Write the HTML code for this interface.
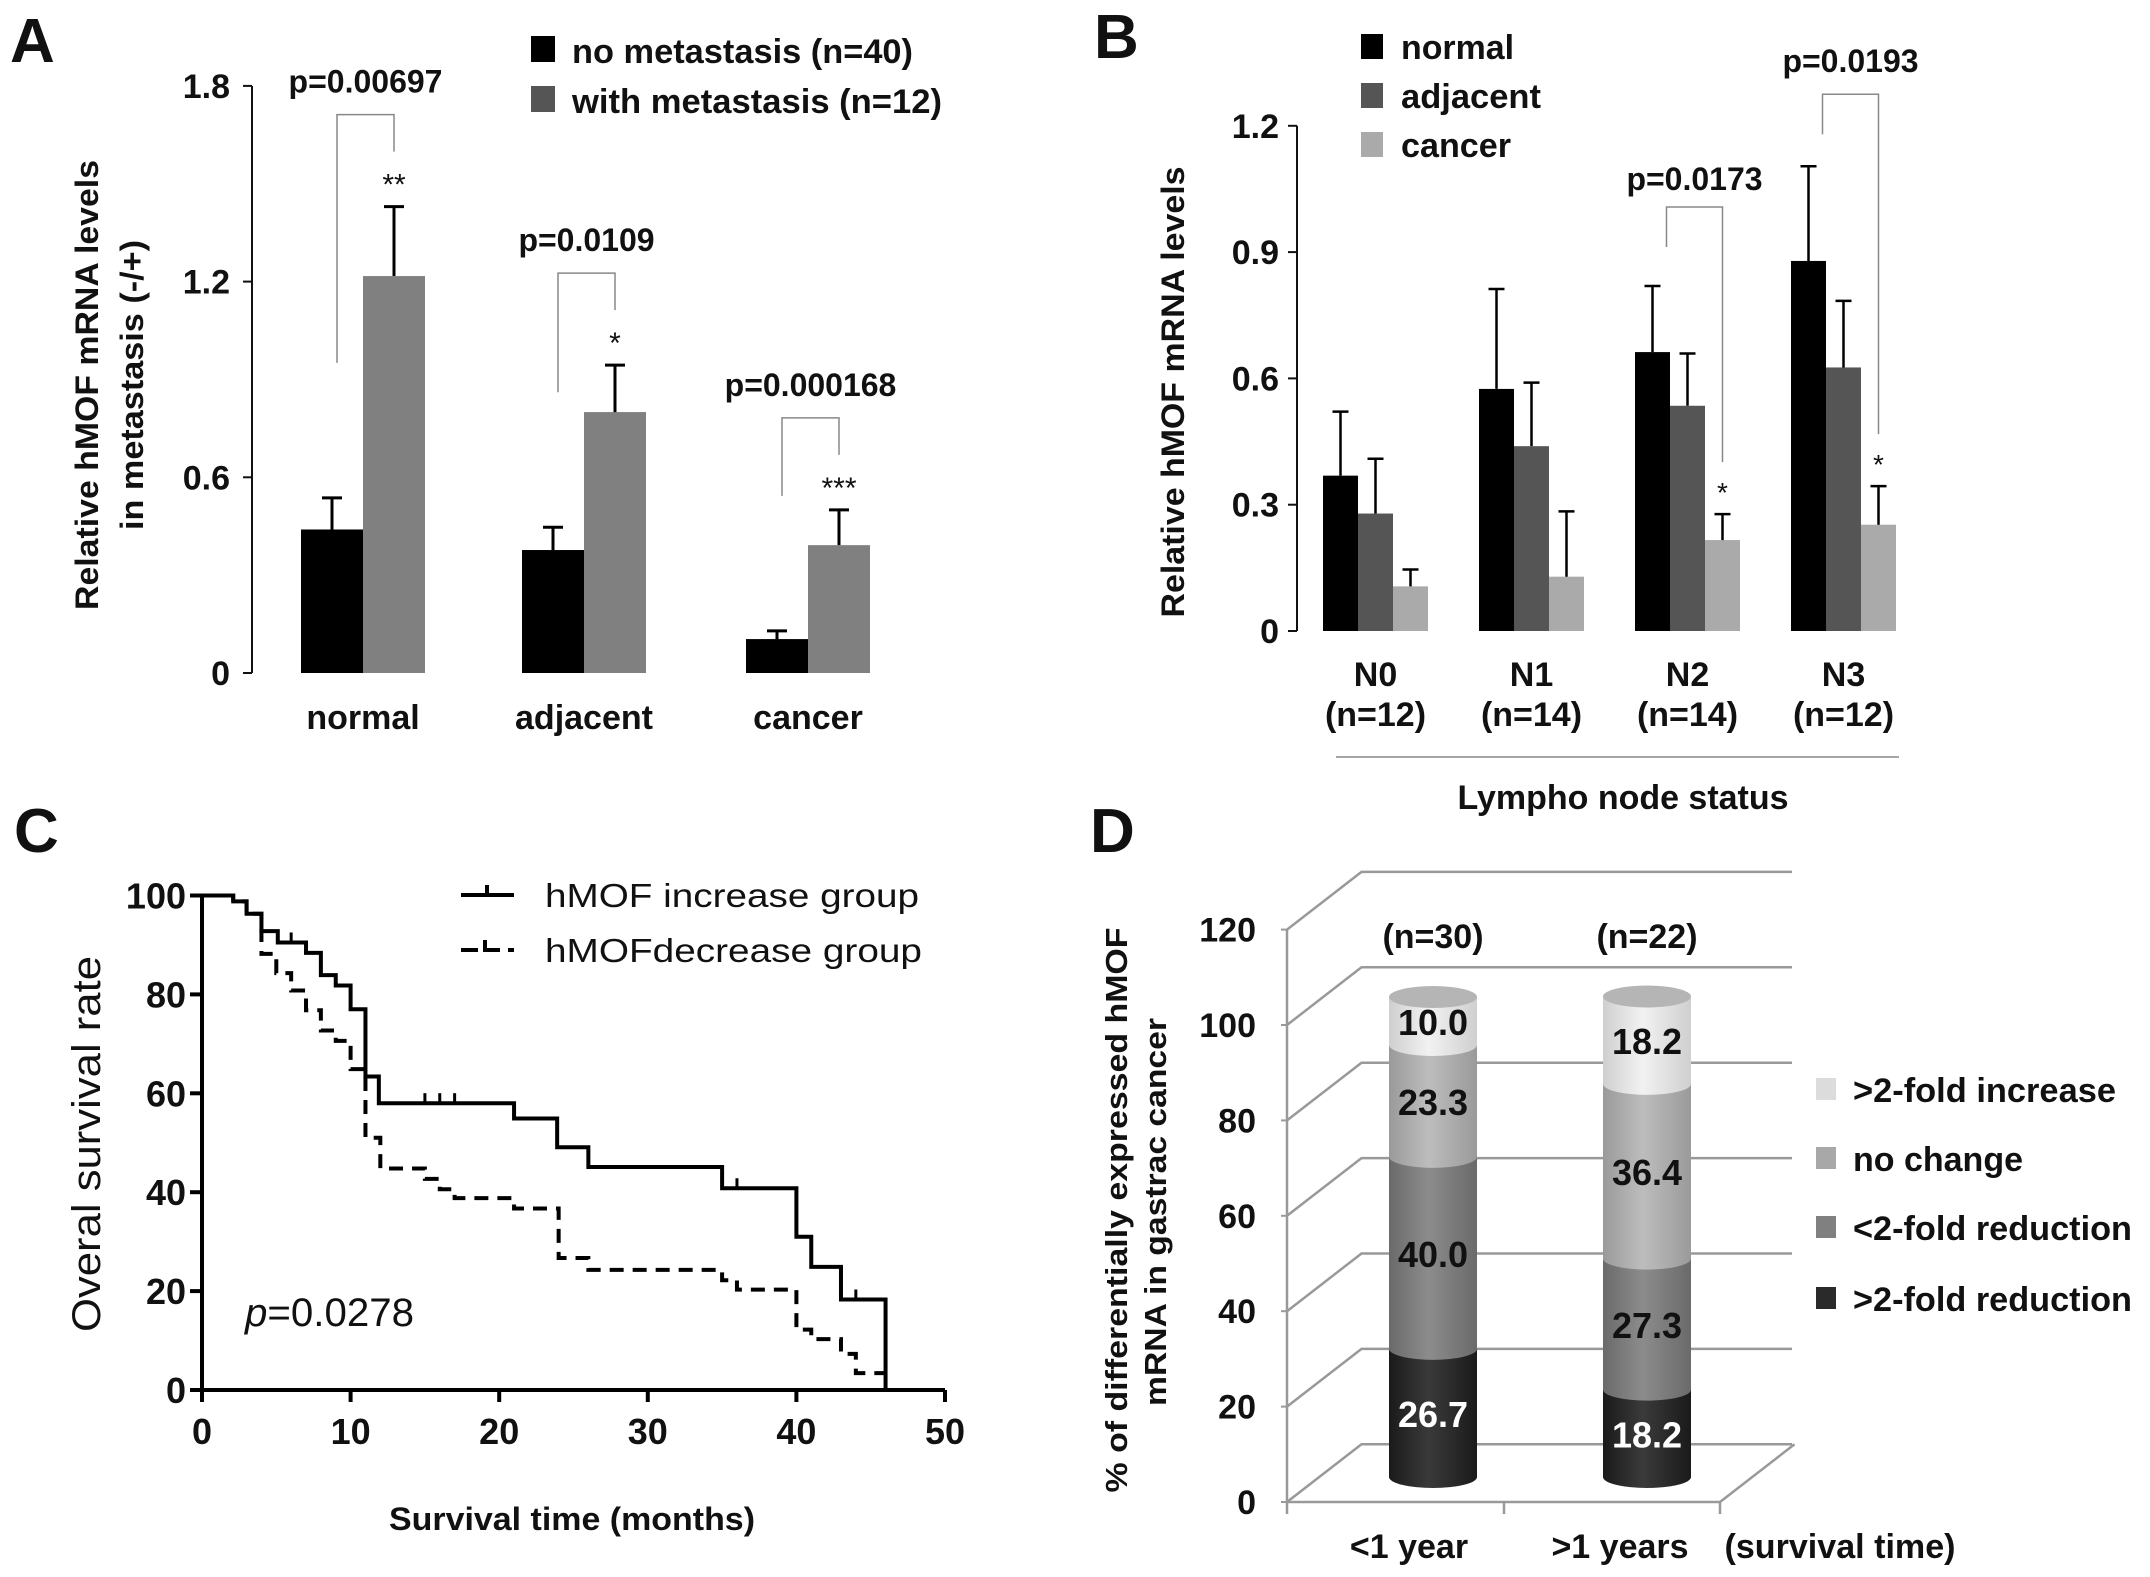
<!DOCTYPE html>
<html><head><meta charset="utf-8"><style>
html,body{margin:0;padding:0;background:#fff;}
svg{display:block;}
text{font-family:"Liberation Sans Narrow","Liberation Sans",sans-serif;font-weight:bold;fill:#111;}
.reg{font-family:"Liberation Sans",sans-serif;font-weight:normal;}
</style></head><body>
<svg id="fig" width="2150" height="1577" viewBox="0 0 2150 1577" xmlns="http://www.w3.org/2000/svg">
<g id="pA"></g>
<g id="pB"></g>
<g id="pC"></g>
<g id="pD"></g>
</svg>
<script>
// ---------- Panel A data ----------
const aCategories = ["normal","adjacent","cancer"];
const aNoMet = [0.44, 0.377, 0.104];
const aNoMetErr = [0.097, 0.07, 0.025];
const aWithMet = [1.217, 0.80, 0.392];
const aWithMetErr = [0.213, 0.144, 0.108];
const aTicks = [0, 0.6, 1.2, 1.8];
const aTickLabels = ["0","0.6","1.2","1.8"];
const aPvals = ["p=0.00697","p=0.0109","p=0.000168"];
const aStars = ["**","*","***"];
// ---------- Panel B data ----------
const bCategories = ["N0","N1","N2","N3"];
const bCounts = ["(n=12)","(n=14)","(n=14)","(n=12)"];
const bNormal = [0.369, 0.575, 0.6625, 0.879];
const bNormalErr = [0.152, 0.2375, 0.157, 0.225];
const bAdjacent = [0.279, 0.439, 0.535, 0.626];
const bAdjacentErr = [0.13, 0.151, 0.124, 0.158];
const bCancer = [0.106, 0.129, 0.216, 0.2525];
const bCancerErr = [0.04, 0.155, 0.0615, 0.0915];
const bTicks = [0, 0.3, 0.6, 0.9, 1.2];
const bTickLabels = ["0","0.3","0.6","0.9","1.2"];
// ---------- Panel C data ----------
const cIncTimes = [0, 2.1, 3, 4, 5.1, 7, 8, 9, 10, 11, 11.9, 21, 23.9, 26, 35, 40, 41, 43, 46];
const cIncSurv  = [100, 98.8, 96.3, 92.8, 90.5, 88.4, 83.9, 81.8, 77, 63.4, 58, 54.9, 49.1, 45.1, 40.8, 31, 24.9, 18.3, 0];
const cIncCensor = [6, 15, 16, 17, 36, 44];
const cIncCensorSurv = [90.5, 58, 58, 58, 40.8, 18.3];
const cDecTimes = [0, 2.1, 3, 4, 5, 6, 7, 8, 9, 10, 11, 12, 15, 16, 17, 21, 24, 26, 35, 36, 40, 41, 43, 44, 46];
const cDecSurv  = [100, 98.8, 96.3, 88.2, 84.3, 80.8, 76.8, 72.7, 70.6, 64.9, 51, 44.8, 42.7, 40.6, 38.8, 36.7, 26.7, 24.3, 22.2, 20.3, 12.2, 10.3, 7.3, 3.4, 3.4];
const cXTicks = [0,10,20,30,40,50];
const cYTicks = [0,20,40,60,80,100];
// ---------- Panel D data ----------
const dGroups = ["<1 year", ">1 years"];
const dGroupN = ["(n=30)", "(n=22)"];
const dReduce2 = [26.7, 18.2];
const dReduceLess = [40.0, 27.3];
const dNoChange = [23.3, 36.4];
const dIncrease = [10.0, 18.2];
const dSeriesNames = [">2-fold reduction","<2-fold reduction","no change",">2-fold increase"];
const dTicks = [0,20,40,60,80,100,120];

const NS = "http://www.w3.org/2000/svg";
function el(parent, tag, attrs, txt){
  const e = document.createElementNS(NS, tag);
  for (const k in attrs) e.setAttribute(k, attrs[k]);
  if (txt !== undefined) e.textContent = txt;
  parent.appendChild(e);
  return e;
}

// ================= Panel A =================
(function(){
  const g = document.getElementById('pA');
  const y0 = 673, pxPer = 195.7/0.6, axX = 252;
  const yA = v => y0 - v*pxPer;
  const blackX = [301, 522, 746], bw = 62;
  let t = el(g,'text',{x:10,y:62,'font-size':62,'font-family':'Liberation Sans'},'A');
   
  let ax = el(g,'line',{x1:axX,y1:yA(1.8),x2:axX,y2:y0,stroke:'#111','stroke-width':2});
   
  aTicks.forEach((v,i)=>{
    const tk = el(g,'line',{x1:axX-9,y1:yA(v),x2:axX,y2:yA(v),stroke:'#111','stroke-width':2});
     
    const lb = el(g,'text',{x:axX-22,y:yA(v)+12,'font-size':34,'text-anchor':'end'},aTickLabels[i]);
     
  });
  aCategories.forEach((c,i)=>{
    const x = blackX[i];
    const r1 = el(g,'rect',{x:x,y:yA(aNoMet[i]),width:bw,height:y0-yA(aNoMet[i]),fill:'#000'});
     
    const r2 = el(g,'rect',{x:x+bw,y:yA(aWithMet[i]),width:bw,height:y0-yA(aWithMet[i]),fill:'#808080'});
     
    [[x+bw/2,aNoMet[i],aNoMetErr[i]],[x+1.5*bw,aWithMet[i],aWithMetErr[i]]].forEach(a=>{
      const e1 = el(g,'path',{d:`M${a[0]},${yA(a[1])} V${yA(a[1]+a[2])} M${a[0]-10},${yA(a[1]+a[2])} H${a[0]+10}`,stroke:'#000','stroke-width':3,fill:'none'});
       
    });
    const lx = x+bw/2+5, rx = x+1.5*bw;
    const lTop = yA(aWithMet[i]+aWithMetErr[i]) - 92;
    const br = el(g,'path',{d:`M${lx},${yA(aNoMet[i]+aNoMetErr[i])-135} V${lTop} H${rx} V${yA(aWithMet[i]+aWithMetErr[i])-55}`,stroke:'#888','stroke-width':1.5,fill:'none'});
     
    const pt = el(g,'text',{x:(lx+rx)/2,y:lTop-22,'font-size':32,'text-anchor':'middle'},aPvals[i]);
     
    const st = el(g,'text',{x:rx,y:yA(aWithMet[i]+aWithMetErr[i])-12,'font-size':30,'text-anchor':'middle',class:'reg'},aStars[i]);
     
    const xl = el(g,'text',{x:x+bw,y:729,'font-size':34,'text-anchor':'middle'},c);
     
  });
  const yt = el(g,'text',{transform:'translate(98,385) rotate(-90)','font-size':32,'text-anchor':'middle','font-family':'Liberation Sans',textLength:450,lengthAdjust:'spacingAndGlyphs'},'Relative hMOF mRNA levels');
   
  const yt2 = el(g,'text',{transform:'translate(143,385) rotate(-90)','font-size':32,'text-anchor':'middle','font-family':'Liberation Sans',textLength:290,lengthAdjust:'spacingAndGlyphs'},'in metastasis (-/+)');
   
  const legNames = ["no metastasis (n=40)","with metastasis (n=12)"], legCol=['#000','#555'];
  legNames.forEach((n,i)=>{
    const sq = el(g,'rect',{x:531,y:36+i*50,width:24,height:26,fill:legCol[i]});
     
    const lt = el(g,'text',{x:572,y:63+i*50,'font-size':34,textLength:i?370:341,lengthAdjust:'spacingAndGlyphs'},n);
     
  });
})();

// ================= Panel B =================
(function(){
  const g = document.getElementById('pB');
  const y0 = 631, pxPer = 126.3/0.3, axX = 1297;
  const yB = v => y0 - v*pxPer;
  const gx0 = 1323, gStep = 156, bw = 35;
  let t = el(g,'text',{x:1094,y:58,'font-size':62,'font-family':'Liberation Sans'},'B');
   
  const ax = el(g,'line',{x1:axX,y1:yB(1.2),x2:axX,y2:y0,stroke:'#111','stroke-width':2});
   
  bTicks.forEach((v,i)=>{
    const tk = el(g,'line',{x1:axX-9,y1:yB(v),x2:axX,y2:yB(v),stroke:'#111','stroke-width':2});
     
    const lb = el(g,'text',{x:axX-18,y:yB(v)+12,'font-size':34,'text-anchor':'end'},bTickLabels[i]);
     
  });
  const series = [[bNormal,bNormalErr,'#000','normal'],[bAdjacent,bAdjacentErr,'#555','adjacent'],[bCancer,bCancerErr,'#aaa','cancer']];
  bCategories.forEach((c,i)=>{
    const gx = gx0 + i*gStep;
    series.forEach((s,j)=>{
      const x = gx + j*bw, v = s[0][i], e = s[1][i];
      const r = el(g,'rect',{x:x,y:yB(v),width:bw,height:y0-yB(v),fill:s[2]});
       
      const cx = x+bw/2;
      const eb = el(g,'path',{d:`M${cx},${yB(v)} V${yB(v+e)} M${cx-8},${yB(v+e)} H${cx+8}`,stroke:'#000','stroke-width':2.5,fill:'none'});
       
    });
    const xl = el(g,'text',{x:gx+1.5*bw,y:686,'font-size':34,'text-anchor':'middle'},c);
     
    const xn = el(g,'text',{x:gx+1.5*bw,y:726,'font-size':34,'text-anchor':'middle'},bCounts[i]);
     
  });
  // brackets N2, N3
  [[2,'p=0.0173',79,17],[3,'p=0.0193',72,22]].forEach(b=>{
    const i=b[0], gx = gx0+i*gStep;
    const lx = gx+bw/2+14, rx = gx+2.5*bw;
    const top = yB(bNormal[i]+bNormalErr[i]) - b[2];
    const br = el(g,'path',{d:`M${lx},${top+40} V${top} H${rx} V${yB(bCancer[i]+bCancerErr[i])-52}`,stroke:'#888','stroke-width':1.5,fill:'none'});
     
    const pt = el(g,'text',{x:(lx+rx)/2,y:top-b[3],'font-size':32,'text-anchor':'middle'},b[1]);
     
    const st = el(g,'text',{x:rx,y:yB(bCancer[i]+bCancerErr[i])-12,'font-size':28,'text-anchor':'middle',class:'reg'},'*');
     
  });
  const ln = el(g,'line',{x1:1336,y1:757,x2:1899,y2:757,stroke:'#888','stroke-width':1.5});
   
  const xt = el(g,'text',{x:1623,y:809,'font-size':34,'text-anchor':'middle',textLength:331,lengthAdjust:'spacingAndGlyphs'},'Lympho node status');
   
  const yt = el(g,'text',{transform:'translate(1184,392) rotate(-90)','font-size':32,'text-anchor':'middle','font-family':'Liberation Sans',textLength:451,lengthAdjust:'spacingAndGlyphs'},'Relative hMOF mRNA levels');
   
  const legN = ['normal','adjacent','cancer'], legC = ['#000','#555','#aaa'], legW=[113,140,110];
  legN.forEach((n,i)=>{
    const sq = el(g,'rect',{x:1361,y:34+i*49,width:22,height:25,fill:legC[i]});
     
    const lt = el(g,'text',{x:1401,y:59+i*49,'font-size':34,textLength:legW[i],lengthAdjust:'spacingAndGlyphs'},n);
     
  });
})();

// ================= Panel C =================
(function(){
  const g = document.getElementById('pC');
  const x0 = 202, xPer = (945-202)/50, y0 = 1390, yPer = (1390-895.5)/100;
  const xC = t => x0 + t*xPer, yC = s => y0 - s*yPer;
  let t = el(g,'text',{x:14,y:852,'font-size':62,'font-family':'Liberation Sans'},'C');
   
  const axes = el(g,'path',{d:`M${x0},${yC(100)} V${y0} H${xC(50)}`,stroke:'#000','stroke-width':4,fill:'none'});
   
  cXTicks.forEach(v=>{
    const tk = el(g,'line',{x1:xC(v),y1:y0,x2:xC(v),y2:y0+12,stroke:'#000','stroke-width':4});
     
    const lb = el(g,'text',{x:xC(v),y:y0+54,'font-size':36,'text-anchor':'middle'},String(v));
     
  });
  cYTicks.forEach(v=>{
    const tk = el(g,'line',{x1:x0-12,y1:yC(v),x2:x0,y2:yC(v),stroke:'#000','stroke-width':4});
     
    const lb = el(g,'text',{x:x0-16,y:yC(v)+13,'font-size':36,'text-anchor':'end'},String(v));
     
  });
  function stepPath(ts, ss){
    let d = `M${xC(ts[0])},${yC(ss[0])}`;
    for (let i=1;i<ts.length;i++){ d += ` H${xC(ts[i])} V${yC(ss[i])}`; }
    return d;
  }
  const inc = el(g,'path',{d:stepPath(cIncTimes,cIncSurv),stroke:'#000','stroke-width':4,fill:'none'});
   
  cIncCensor.forEach((c,i)=>{
    const m = el(g,'line',{x1:xC(c),y1:yC(cIncCensorSurv[i])-10,x2:xC(c),y2:yC(cIncCensorSurv[i]),stroke:'#000','stroke-width':3});
     
  });
  const dec = el(g,'path',{d:stepPath(cDecTimes,cDecSurv),stroke:'#000','stroke-width':4,fill:'none','stroke-dasharray':'14,9'});
   
  const l1 = el(g,'path',{d:'M461,895 H514 M487,885 V895',stroke:'#000','stroke-width':4,fill:'none'});
   
  const l2 = el(g,'path',{d:'M461,950 H478 M485,940 V950 H500 M508,950 H514',stroke:'#000','stroke-width':4,fill:'none'});
   
  const lt1 = el(g,'text',{x:545,y:907,'font-size':33,class:'reg',textLength:374,lengthAdjust:'spacingAndGlyphs'},'hMOF increase group');
   
  const lt2 = el(g,'text',{x:545,y:962,'font-size':33,class:'reg',textLength:377,lengthAdjust:'spacingAndGlyphs'},'hMOFdecrease group');
   
  const p = el(g,'text',{x:245,y:1326,'font-size':40,class:'reg',textLength:169,lengthAdjust:'spacingAndGlyphs'});
   
  el(p,'tspan',{'font-style':'italic'},'p'); el(p,'tspan',{},'=0.0278');
  const xt = el(g,'text',{x:572,y:1530,'font-size':32,'text-anchor':'middle',textLength:366,lengthAdjust:'spacingAndGlyphs'},'Survival time (months)');
   
  const yt = el(g,'text',{transform:'translate(100,1144) rotate(-90)','font-size':40,'text-anchor':'middle',class:'reg',textLength:376,lengthAdjust:'spacingAndGlyphs'},'Overal survival rate');
   
})();

// ================= Panel D =================
(function(){
  const g = document.getElementById('pD');
  const defs = el(document.getElementById('fig'),'defs',{});
  const cols = [['#1a1a1a','#3a3a3a'],['#6a6a6a','#8c8c8c'],['#9a9a9a','#bdbdbd'],['#cfcfcf','#f2f2f2']];
  cols.forEach((c,i)=>{
    const lg = el(defs,'linearGradient',{id:'cg'+i,x1:0,x2:1,y1:0,y2:0});
    el(lg,'stop',{offset:'0','stop-color':c[0]});
    el(lg,'stop',{offset:'0.45','stop-color':c[1]});
    el(lg,'stop',{offset:'1','stop-color':c[0]});
  });
  const fx = 1287, fy0 = 1502, fPer = (1502-1025)/100, dx = 74.5, dy = -57.7, bx1 = 1792, fxEnd = 1720;
  const yF = v => fy0 - v*fPer;
  let t = el(g,'text',{x:1090,y:852,'font-size':62,'font-family':'Liberation Sans'},'D');
   
  dTicks.forEach(v=>{
    const gl = el(g,'path',{d:`M${fx},${yF(v)} L${fx+dx},${yF(v)+dy} H${bx1}`,stroke:'#999','stroke-width':2.5,fill:'none'});
     
    const tk = el(g,'line',{x1:fx-6,y1:yF(v),x2:fx,y2:yF(v),stroke:'#999','stroke-width':2});
     
    const lb = el(g,'text',{x:fx-31,y:yF(v)+12,'font-size':34,'text-anchor':'end'},String(v));
     
  });
  const fr = el(g,'path',{d:`M${fx},${yF(120)} V${fy0} H${fxEnd} L${fxEnd+dx},${fy0+dy} M${fx},${fy0} V${fy0+12} M1504,${fy0} V${fy0+12} M${fxEnd},${fy0} V${fy0+12}`,stroke:'#999','stroke-width':2.5,fill:'none'});
   
  const cx = [1433, 1647], rw = 44, ry = 11, base = 1477, cPer = 4.8;
  const series = [dReduce2, dReduceLess, dNoChange, dIncrease];
  dGroups.forEach((grp,i)=>{
    let cum = 0;
    series.forEach((s,j)=>{
      const v = s[i], yb = base - cum*cPer, yt = base - (cum+v)*cPer;
      const seg = el(g,'path',{d:`M${cx[i]-rw},${yt} V${yb} A${rw},${ry} 0 0 0 ${cx[i]+rw},${yb} V${yt} Z`,fill:`url(#cg${j})`});
       
      const lb = el(g,'text',{x:cx[i],y:(yb+yt)/2+14,'font-size':36,'text-anchor':'middle',style:j==0?'fill:#fff':''},v.toFixed(1));
       
      cum += v;
    });
    const top = el(g,'ellipse',{cx:cx[i],cy:base-cum*cPer,rx:rw,ry:ry,fill:'#b5b5b5'});
     
    const nl = el(g,'text',{x:cx[i],y:948,'font-size':34,'text-anchor':'middle'},dGroupN[i]);
     
    const xl = el(g,'text',{x:[1409,1620][i],y:1558,'font-size':34,'text-anchor':'middle'},grp);
     
  });
  const st = el(g,'text',{x:1840,y:1558,'font-size':34,'text-anchor':'middle',textLength:231,lengthAdjust:'spacingAndGlyphs'},'(survival time)');
   
  const legC = ['#dcdcdc','#a8a8a8','#808080','#2a2a2a'], legN = [dSeriesNames[3],dSeriesNames[2],dSeriesNames[1],dSeriesNames[0]], legW=[263,170,279,279], legY=[1089,1158,1227,1298];
  legN.forEach((n,i)=>{
    const sq = el(g,'rect',{x:1816,y:legY[i]-11,width:20,height:22,fill:legC[i]});
     
    const lt = el(g,'text',{x:1853,y:legY[i]+13,'font-size':34,textLength:legW[i],lengthAdjust:'spacingAndGlyphs'},n);
     
  });
  const y1 = el(g,'text',{transform:'translate(1127,1210) rotate(-90)','font-size':31,'text-anchor':'middle','font-family':'Liberation Sans',textLength:565,lengthAdjust:'spacingAndGlyphs'},'% of differentially expressed hMOF');
   
  const y2 = el(g,'text',{transform:'translate(1166,1212) rotate(-90)','font-size':31,'text-anchor':'middle','font-family':'Liberation Sans',textLength:388,lengthAdjust:'spacingAndGlyphs'},'mRNA in gastrac cancer');
   
})();
</script>
</body></html>
